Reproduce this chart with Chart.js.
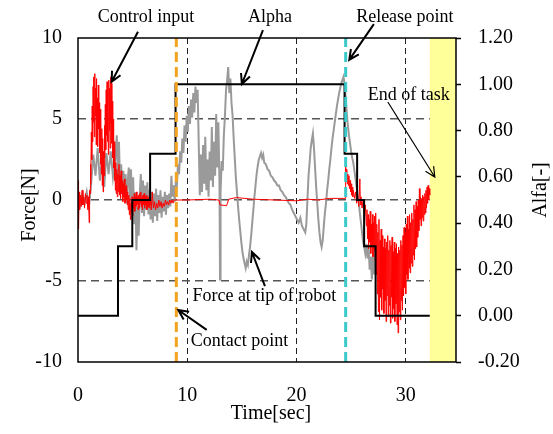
<!DOCTYPE html>
<html>
<head>
<meta charset="utf-8">
<script src="https://cdn.jsdelivr.net/npm/chart.js@4.4.1/dist/chart.umd.min.js"></script>
<style>
  html, body { margin: 0; padding: 0; background: #fff; }
</style>
</head>
<body>
<canvas id="forceChart" width="553" height="434"></canvas>
<script>
// Axis ranges and ticks
const timeMax = 34.6;
const timeTicks = [0, 10, 20, 30];
const forceTicks = [-10, -5, 0, 5, 10];
const alfaTicks = [-0.2, 0, 0.2, 0.4, 0.6, 0.8, 1.0, 1.2];

// Event times (sec)
const contactTime = 9.0;
const releaseTime = 24.5;
const endOfTask = [32.2, 34.6];

// Alpha (right axis), each value starts at its time
const alphaTime = [0, 3.66, 4.97, 6.6, 8.93, 24.4, 25.55, 26.19, 27.24, 32.2];
const alphaValue = [0, 0.3, 0.5, 0.7, 1.0, 0.7, 0.5, 0.3, 0.0, 0.0];

// Control input [time, force]
const controlInput = [
  [0.00,1.2],[0.05,-1.8],[0.10,0.5],[0.15,-0.6],[0.22,0.3],[0.30,-0.4],[0.38,0.6],[0.45,-0.3],[0.52,0.2],[0.60,-0.5],
  [0.68,0.4],[0.75,-0.2],[0.82,0.3],[0.90,-0.6],[0.97,0.2],[1.02,-1.4],[1.06,0.6],
  [1.10,0.4],[1.14,2.2],[1.18,1.0],[1.22,4.2],[1.26,2.5],[1.30,5.8],[1.34,3.6],[1.38,7.0],[1.42,4.8],[1.46,7.6],
  [1.50,3.9],[1.54,7.8],[1.58,5.2],[1.62,6.9],[1.66,3.4],[1.70,7.5],[1.74,4.1],[1.78,6.3],[1.82,3.3],[1.86,7.1],
  [1.90,4.4],[1.94,6.0],[1.98,2.9],[2.02,5.6],[2.06,2.2],[2.10,5.0],[2.14,1.6],[2.18,4.4],[2.22,0.9],[2.26,3.8],
  [2.30,0.5],[2.34,3.0],[2.38,1.5],[2.42,4.6],[2.46,2.6],[2.50,5.9],[2.54,3.1],[2.58,6.8],[2.62,4.0],[2.66,7.3],
  [2.70,3.6],[2.74,6.4],[2.78,2.8],[2.82,7.4],[2.86,4.3],[2.90,6.9],[2.94,3.2],[2.98,7.6],[3.02,4.7],[3.06,7.2],
  [3.10,3.5],[3.14,6.1],[3.18,2.6],[3.22,5.0],[3.26,2.0],[3.30,3.6],[3.34,1.2],[3.38,2.7],[3.42,0.6],[3.46,2.3],
  [3.50,0.4],[3.55,1.9],[3.60,0.2],[3.65,1.6],[3.70,0.5],[3.75,2.2],[3.80,0.3],[3.85,1.5],[3.90,0.1],[3.95,1.8],
  [4.00,0.4],[4.05,1.2],[4.10,-0.1],[4.15,1.0],[4.20,0.2],[4.25,1.3],[4.30,-0.2],[4.35,0.8],[4.40,0.0],[4.45,0.9],
  [4.50,-0.3],[4.55,0.5],[4.60,-0.6],[4.65,0.3],[4.70,-0.9],[4.75,0.1],[4.80,-1.2],[4.85,-0.2],[4.90,-0.8],[4.95,0.2],
  [5.00,-1.0],[5.05,0.1],[5.10,-0.5],[5.15,0.4],[5.20,-0.7],[5.25,0.2],[5.30,-0.4],[5.35,0.5],[5.40,-0.3],[5.45,0.2],
  [5.50,-0.6],[5.55,0.3],[5.60,-0.5],[5.65,0.4],[5.70,-0.2],[5.75,0.5],[5.80,-0.4],[5.85,0.2],[5.90,-0.6],[5.95,0.3],
  [6.00,-0.3],[6.05,0.4],[6.10,-0.5],[6.15,0.2],[6.20,-0.3],[6.25,0.3],[6.30,-0.6],[6.35,0.1],[6.40,-0.4],[6.45,0.2],
  [6.50,-0.5],[6.60,0.1],[6.70,-0.6],[6.80,0.5],[6.90,-0.5],[7.00,-0.1],[7.10,-0.6],[7.20,-0.2],[7.30,-0.5],[7.40,0.0],
  [7.50,-0.4],[7.60,-0.1],[7.70,-0.5],[7.80,-0.2],[7.90,-0.4],[8.00,0.0],[8.10,-0.3],[8.20,-0.1],[8.30,-0.3],[8.40,0.0],
  [8.50,-0.2],[8.60,0.0],[8.70,-0.2],[8.80,0.0],[9.00,0.0],
  [10.0,0.0],[12.0,0.05],[12.9,0.0],[13.0,-0.3],[13.6,-0.35],[13.8,0.05],[14.5,0.15],[16.0,0.05],[18.0,0.0],
  [20.0,-0.05],[21.0,0.05],[22.0,0.0],[23.0,0.1],[24.45,0.1],
  [24.50,2.1],[24.55,1.2],[24.60,1.9],[24.65,1.0],[24.70,1.6],[24.75,0.9],[24.80,1.5],[24.85,0.7],[24.90,1.2],[24.95,0.5],
  [25.00,1.0],[25.05,0.3],[25.10,0.8],[25.15,0.2],[25.20,0.6],[25.30,0.1],[25.40,0.5],[25.50,-0.2],[25.60,0.3],[25.70,-0.4],
  [25.80,1.3],[25.85,-0.3],[25.90,0.2],[26.00,-0.5],[26.10,0.0],[26.20,-0.8],[26.30,-0.3],[26.40,-1.6],[26.45,-0.6],[26.50,-2.4],
  [26.55,-0.9],[26.60,-3.0],[26.65,-1.2],[26.70,-2.6],[26.75,-0.7],[26.80,-3.3],[26.85,-1.5],[26.90,-2.8],[26.95,-0.9],[27.00,-3.5],
  [27.05,-1.4],[27.10,-3.1],[27.15,-1.0],[27.20,-3.8],[27.25,-0.8],[27.30,-4.6],[27.35,-1.5],[27.40,-5.8],[27.45,-2.0],[27.50,-6.9],
  [27.55,-1.2],[27.60,-7.4],[27.65,-2.5],[27.70,-6.0],[27.75,-1.8],[27.80,-6.8],[27.85,-2.2],[27.90,-5.5],[27.95,-2.9],[28.00,-7.0],
  [28.05,-2.4],[28.10,-6.2],[28.15,-3.0],[28.20,-7.5],[28.25,-2.6],[28.30,-5.9],[28.35,-2.2],[28.40,-7.2],[28.45,-3.1],[28.50,-6.5],
  [28.55,-2.5],[28.60,-7.6],[28.65,-2.8],[28.70,-6.0],[28.75,-2.3],[28.80,-7.3],[28.85,-3.2],[28.90,-6.7],[28.95,-2.6],[29.00,-7.5],
  [29.05,-3.0],[29.10,-6.4],[29.15,-2.7],[29.20,-7.7],[29.25,-3.3],[29.30,-8.2],[29.35,-2.9],[29.40,-6.9],[29.45,-3.1],[29.50,-7.4],
  [29.55,-2.5],[29.60,-6.2],[29.65,-2.8],[29.70,-6.8],[29.75,-2.2],[29.80,-5.9],[29.85,-1.7],[29.90,-5.4],[29.95,-2.0],[30.00,-5.8],
  [30.05,-1.5],[30.10,-4.6],[30.15,-1.0],[30.20,-4.9],[30.25,-1.8],[30.30,-4.2],[30.35,-0.9],[30.40,-4.5],[30.45,-1.4],[30.50,-3.9],
  [30.55,-0.8],[30.60,-4.1],[30.65,-1.2],[30.70,-3.4],[30.75,-0.3],[30.80,-3.7],[30.85,-0.6],[30.90,-3.0],[30.95,-0.1],[31.00,-2.9],
  [31.05,-0.4],[31.10,-2.3],[31.15,0.0],[31.20,-1.9],[31.25,0.7],[31.30,-1.2],[31.35,0.2],[31.40,-1.6],[31.45,0.1],[31.50,-1.1],
  [31.55,0.3],[31.60,-1.3],[31.65,0.2],[31.70,-0.9],[31.75,0.4],[31.80,-0.8],[31.85,0.6],[31.90,-0.5],[31.95,0.8],[32.00,-0.2],
  [32.05,0.9],[32.10,0.0],[32.15,0.7],[32.20,0.3]
];

// Force at tip of robot [time, force]
const tipForce = [
  [0.0,0.3],[0.2,-0.3],[0.4,0.4],[0.6,-0.2],[0.8,0.5],[1.0,-0.4],[1.2,1.0],[1.4,2.8],[1.6,1.5],[1.8,3.2],
  [2.0,1.2],[2.2,2.6],[2.4,0.8],[2.6,2.9],[2.8,1.6],[3.0,3.0],[3.2,1.4],[3.4,2.5],[3.55,4.0],[3.65,1.2],
  [3.75,3.6],[3.85,0.8],[3.95,2.2],[4.05,0.4],[4.15,1.8],[4.25,0.2],[4.35,1.6],[4.45,-0.2],[4.55,1.2],[4.65,2.0],
  [4.75,0.1],[4.85,1.9],[4.95,-0.3],[5.05,1.4],[5.15,-1.5],[5.25,0.5],[5.35,-3.1],[5.45,-0.4],[5.55,-2.2],[5.65,0.3],
  [5.75,1.6],[5.85,-0.8],[5.95,1.2],[6.05,-1.0],[6.15,0.9],[6.25,-0.6],[6.35,1.1],[6.45,-0.9],[6.55,0.6],[6.65,-1.2],
  [6.75,0.5],[6.85,-1.4],[6.95,0.4],[7.05,-1.0],[7.15,0.7],[7.25,-1.3],[7.35,0.3],[7.45,-0.8],[7.55,0.6],[7.65,-1.1],
  [7.75,0.2],[7.85,-0.7],[7.95,0.5],[8.05,-0.9],[8.15,0.3],[8.25,-0.5],[8.35,0.4],[8.45,-0.4],[8.55,1.5],[8.65,0.2],
  [8.75,0.9],[8.85,-0.1],[8.95,1.1],[9.05,0.9],[9.15,2.2],[9.25,1.6],[9.35,3.0],[9.45,2.3],[9.55,3.8],[9.65,2.9],
  [9.75,4.6],[9.85,3.6],[9.95,5.2],[10.05,4.2],[10.15,5.8],[10.25,4.7],[10.35,6.2],[10.45,5.1],[10.55,6.6],[10.65,5.4],
  [10.75,7.0],[10.85,6.0],[10.95,6.8],[11.05,3.5],[11.15,0.3],[11.25,2.8],[11.35,0.5],[11.45,3.4],[11.55,1.0],[11.65,3.9],
  [11.75,0.6],[11.85,2.5],[11.95,0.2],[12.05,3.0],[12.15,1.2],[12.25,4.5],[12.35,0.8],[12.45,3.6],[12.55,1.5],[12.65,5.3],
  [12.75,2.0],[12.85,4.8],[12.95,1.0],[13.00,-4.9],[13.05,0.5],[13.15,2.4],[13.25,1.8],[13.35,4.0],[13.45,5.2],[13.55,6.8],
  [13.65,7.4],[13.75,8.2],[13.85,6.6],[13.95,7.5],[14.05,6.0],[14.15,5.2],[14.25,3.8],[14.35,2.6],[14.45,1.4],[14.55,0.5],
  [14.65,-0.4],[14.75,-1.2],[14.85,-1.9],[14.95,-2.6],[15.05,-3.2],[15.15,-3.6],[15.25,-3.9],[15.35,-4.2],[15.45,-3.8],[15.55,-4.0],
  [15.65,-3.4],[15.75,-2.9],[15.85,-2.2],[15.95,-1.4],[16.05,-0.6],[16.15,0.2],[16.25,0.9],[16.35,1.6],[16.45,2.1],[16.55,2.5],
  [16.65,2.7],[16.75,2.9],[16.85,2.6],[16.95,2.8],[17.05,2.3],[17.2,2.2],[17.35,1.9],[17.5,1.8],[17.65,1.5],[17.8,1.4],
  [17.95,1.2],[18.1,1.1],[18.25,0.9],[18.4,0.9],[18.55,0.6],[18.7,0.5],[18.85,0.3],[19.0,0.2],[19.15,0.0],[19.3,-0.2],
  [19.45,-0.3],[19.6,-0.6],[19.75,-0.8],[19.9,-1.0],[20.05,-1.2],[20.2,-1.4],[20.35,-1.1],[20.5,-1.6],[20.65,-1.8],[20.8,-2.0],
  [20.9,-1.5],[21.0,0.0],[21.1,1.5],[21.2,2.3],[21.3,3.2],[21.4,3.7],[21.5,4.1],[21.6,3.2],[21.7,2.0],[21.8,0.8],
  [21.9,-0.2],[22.0,-1.2],[22.1,-2.0],[22.2,-2.6],[22.3,-2.9],[22.4,-2.5],[22.5,-1.6],[22.6,-0.8],[22.7,-0.2],[22.8,0.6],
  [22.9,1.2],[23.0,1.9],[23.1,2.5],[23.2,3.2],[23.3,3.8],[23.4,4.3],[23.5,4.8],[23.6,5.3],[23.7,5.8],[23.8,6.2],
  [23.9,6.6],[24.0,6.9],[24.1,7.2],[24.2,7.4],[24.3,7.6],[24.4,7.2],[24.5,6.3],[24.6,5.4],[24.7,4.6],[24.8,4.0],
  [24.9,3.5],[25.0,3.0],[25.1,2.6],[25.2,2.3],[25.3,1.8],[25.4,1.3],[25.5,0.8],[25.6,0.3],[25.7,-0.2],[25.8,-0.8],
  [25.9,-1.4],[26.0,-2.0],[26.1,-2.6],[26.2,-2.9],[26.3,-3.3],[26.4,-2.7],[26.5,-3.6],[26.6,-2.9],[26.7,-4.3],[26.8,-3.5],
  [26.9,-4.9],[27.0,-3.2],[27.1,-4.6],[27.2,-3.0]
];

// Annotations: text centre, arrow tail and arrow head in data units (time, force)
const notes = [
  { text: 'Control input', at: [6.22, 11.3], from: [5.49, 10.39], to: [3.08, 7.30], w: 2 },
  { text: 'Alpha', at: [17.57, 11.3], from: [16.93, 10.49], to: [15.0, 7.16], w: 2 },
  { text: 'Release point', at: [29.92, 11.3], from: [27.08, 10.86], to: [24.83, 8.65], w: 2 },
  { text: 'End of task', at: [30.28, 6.48], from: [28.36, 6.05], to: [32.66, 1.42], w: 1.2 },
  { text: 'Force at tip of robot', at: [17.06, -5.93], from: [17.11, -5.31], to: [15.92, -3.21], w: 2 },
  { text: 'Contact point', at: [14.78, -8.70], from: [11.78, -8.02], to: [9.18, -6.79], w: 2 }
];

const serif = "'Liberation Serif', 'Times New Roman', serif";

function drawArrow(ctx, x1, y1, x2, y2, w) {
  const ang = Math.atan2(y2 - y1, x2 - x1);
  const h = 11;
  ctx.lineWidth = w;
  ctx.beginPath();
  ctx.moveTo(x1, y1);
  ctx.lineTo(x2, y2);
  ctx.moveTo(x2 - h * Math.cos(ang - 0.45), y2 - h * Math.sin(ang - 0.45));
  ctx.lineTo(x2, y2);
  ctx.lineTo(x2 - h * Math.cos(ang + 0.45), y2 - h * Math.sin(ang + 0.45));
  ctx.stroke();
}

// Yellow end-of-task band, frame, annotations and axis titles
const decorPlugin = {
  id: 'decor',
  beforeDatasetsDraw(chart) {
    const { ctx, chartArea: a, scales: { x } } = chart;
    const x0 = x.getPixelForValue(endOfTask[0]);
    const x1 = x.getPixelForValue(endOfTask[1]);
    ctx.save();
    ctx.fillStyle = '#ffff99';
    ctx.fillRect(x0, a.top, x1 - x0, a.bottom - a.top);
    ctx.restore();
  },
  afterDraw(chart) {
    const { ctx, chartArea: a, scales: { x, y } } = chart;
    ctx.save();
    ctx.strokeStyle = '#000';
    ctx.lineWidth = 1.5;
    ctx.strokeRect(a.left, a.top, a.right - a.left, a.bottom - a.top);

    ctx.fillStyle = '#000';
    ctx.font = '18px ' + serif;
    ctx.textAlign = 'center';
    ctx.textBaseline = 'middle';
    notes.forEach(n => {
      ctx.fillText(n.text, x.getPixelForValue(n.at[0]), y.getPixelForValue(n.at[1]));
      drawArrow(ctx,
        x.getPixelForValue(n.from[0]), y.getPixelForValue(n.from[1]),
        x.getPixelForValue(n.to[0]), y.getPixelForValue(n.to[1]), n.w);
    });

    ctx.font = '20px ' + serif;
    ctx.fillText('Time[sec]', (a.left + a.right) / 2 + 4, a.bottom + 52);
    ctx.save();
    ctx.translate(a.left - 48, (a.top + a.bottom) / 2 + 5);
    ctx.rotate(-Math.PI / 2);
    ctx.fillText('Force[N]', 0, 0);
    ctx.restore();
    ctx.save();
    ctx.translate(a.right + 85, (a.top + a.bottom) / 2 - 10);
    ctx.rotate(-Math.PI / 2);
    ctx.fillText('Alfa[-]', 0, 0);
    ctx.restore();
    ctx.restore();
  }
};

const toPoints = rows => rows.map(r => ({ x: r[0], y: r[1] }));

const ctx = document.getElementById('forceChart').getContext('2d');
new Chart(ctx, {
  type: 'line',
  data: {
    datasets: [
      {
        label: 'Contact point',
        data: [{ x: contactTime, y: -10 }, { x: contactTime, y: 10 }],
        borderColor: '#f5a21f', borderWidth: 3, borderDash: [10, 5],
        pointRadius: 0, yAxisID: 'y'
      },
      {
        label: 'Release point',
        data: [{ x: releaseTime, y: -10 }, { x: releaseTime, y: 10 }],
        borderColor: '#3cc9c9', borderWidth: 3, borderDash: [10, 5],
        pointRadius: 0, yAxisID: 'y'
      },
      {
        label: 'Alpha',
        data: alphaTime.map((t, i) => ({ x: t, y: alphaValue[i] })),
        borderColor: '#000', borderWidth: 2, stepped: 'before',
        pointRadius: 0, yAxisID: 'y1'
      },
      {
        label: 'Control input',
        data: toPoints(controlInput),
        borderColor: '#ff0000', borderWidth: 1,
        pointRadius: 0, yAxisID: 'y'
      },
      {
        label: 'Force at tip of robot',
        data: toPoints(tipForce),
        borderColor: '#9a9a9a', borderWidth: 2,
        pointRadius: 0, yAxisID: 'y'
      }
    ]
  },
  options: {
    responsive: false,
    animation: false,
    layout: { padding: { top: 38, left: 0, right: 0, bottom: 0 } },
    plugins: { legend: { display: false }, tooltip: { enabled: false } },
    elements: { line: { tension: 0 } },
    scales: {
      x: {
        type: 'linear', min: 0, max: timeMax,
        afterBuildTicks: s => { s.ticks = timeTicks.map(v => ({ value: v })); },
        afterFit: s => { s.height = 72; },
        grid: {
          color: c => (c.tick && c.tick.value === 0) ? 'rgba(0,0,0,0)' : '#222',
          lineWidth: 1, drawTicks: false
        },
        border: { display: false, dash: [6, 4] },
        ticks: { font: { family: serif, size: 20 }, color: '#000', padding: 22, maxRotation: 0 }
      },
      y: {
        position: 'left', min: -10, max: 10,
        afterBuildTicks: s => { s.ticks = forceTicks.map(v => ({ value: v })); },
        afterFit: s => { s.width = 78; },
        grid: {
          color: c => (c.tick && Math.abs(c.tick.value) === 10) ? 'rgba(0,0,0,0)' : '#555',
          lineWidth: 1.5, drawTicks: false
        },
        border: { display: false, dash: [8, 5] },
        ticks: { font: { family: serif, size: 20 }, color: '#000', padding: 16 }
      },
      y1: {
        position: 'right', min: -0.2, max: 1.2,
        afterBuildTicks: s => { s.ticks = alfaTicks.map(v => ({ value: v })); },
        afterFit: s => { s.width = 97; },
        grid: { drawOnChartArea: false, drawTicks: true, tickLength: 5, tickColor: '#000', tickWidth: 1.5 },
        border: { display: false },
        ticks: {
          font: { family: serif, size: 20 }, color: '#000', padding: 17,
          callback: v => Number(v).toFixed(2)
        }
      }
    }
  },
  plugins: [decorPlugin]
});
</script>
</body>
</html>
